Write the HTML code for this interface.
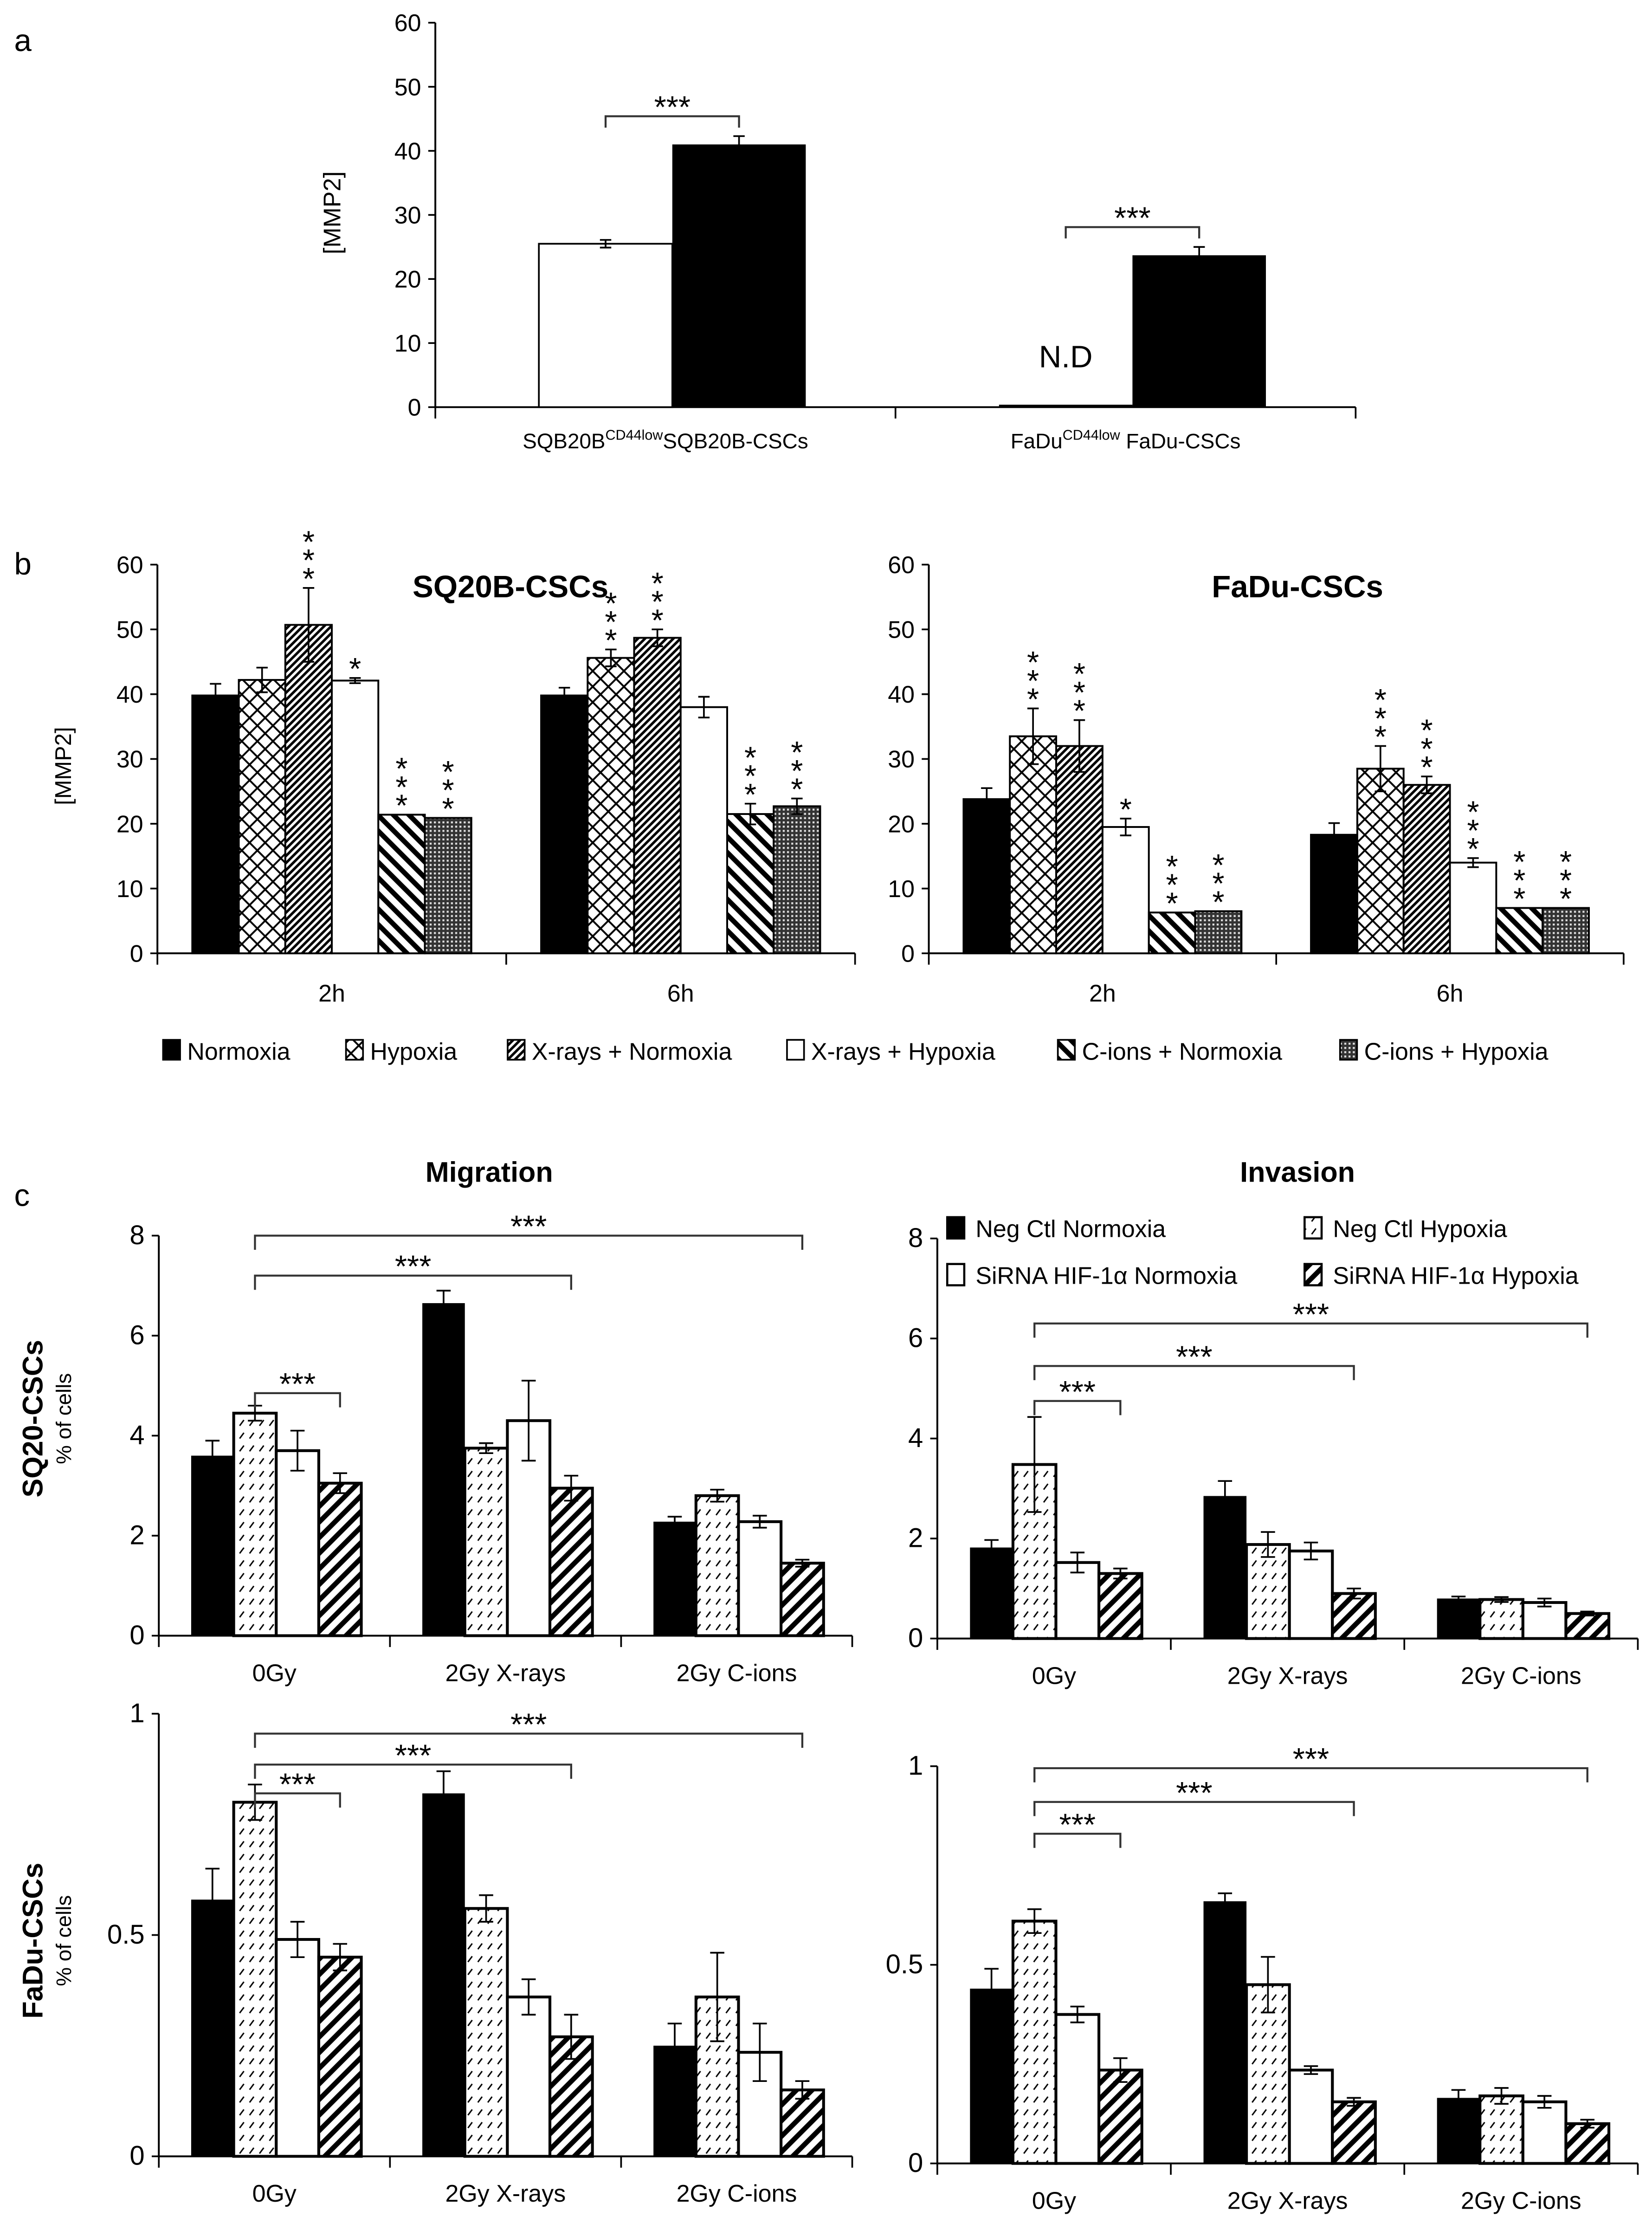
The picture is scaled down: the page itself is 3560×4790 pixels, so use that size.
<!DOCTYPE html>
<html><head><meta charset="utf-8">
<style>
html,body{margin:0;padding:0;background:#fff;}
svg{display:block;font-family:"Liberation Sans Narrow","Liberation Sans",sans-serif;}
</style></head>
<body>
<svg id="fig" width="3560" height="4790" viewBox="0 0 1165 1567" preserveAspectRatio="none" xmlns="http://www.w3.org/2000/svg">
<defs>
<pattern id="pHyp" patternUnits="userSpaceOnUse" width="11" height="11"><rect width="11" height="11" fill="#fff"/><path d="M0 0L11 11M11 0L0 11" stroke="#000" stroke-width="1.3"/></pattern>
<pattern id="pX" patternUnits="userSpaceOnUse" width="5" height="5"><rect width="5" height="5" fill="#fff"/><path d="M-1 6L6 -1M-2 2L2 -2M3 7L7 3" stroke="#000" stroke-width="1.8"/></pattern>
<pattern id="pC" patternUnits="userSpaceOnUse" width="11" height="11"><rect width="11" height="11" fill="#fff"/><path d="M-2 -2L13 13M-2 9L2 13M9 -2L13 2" stroke="#000" stroke-width="3.5"/></pattern>
<pattern id="pCH" patternUnits="userSpaceOnUse" width="3" height="3"><rect width="3" height="3" fill="#333"/><rect width="1.4" height="1.4" fill="#ddd"/></pattern>
<pattern id="pDash" patternUnits="userSpaceOnUse" width="7" height="9"><rect width="7" height="9" fill="#fff"/><path d="M1 6L4 2" stroke="#000" stroke-width="1"/></pattern>
<pattern id="pH" patternUnits="userSpaceOnUse" width="11" height="11"><rect width="11" height="11" fill="#fff"/><path d="M-2 13L13 -2M-2 2L2 -2M9 13L13 9" stroke="#000" stroke-width="3.5"/></pattern>
</defs>
<g id="root"></g>
</svg>
<script>
// ---------- data ----------
const aCats = ["SQB20B", "FaDu"];
const aLow = [25.5, 0];
const aLowErr = [0.6, 0];
const aCSC = [41.0, 23.7];
const aCSCErr = [1.3, 1.3];
const aTicks = [0, 10, 20, 30, 40, 50, 60];

const bCats = ["2h", "6h"];
const bTicks = [0, 10, 20, 30, 40, 50, 60];
const bSeriesNames = ["Normoxia", "Hypoxia", "X-rays +  Normoxia", "X-rays + Hypoxia", "C-ions + Normoxia", "C-ions + Hypoxia"];
const bSQ = [[39.8, 39.8], [42.2, 45.6], [50.7, 48.7], [42.1, 38.0], [21.4, 21.5], [20.9, 22.7]];
const bSQErr = [[1.8, 1.2], [1.9, 1.3], [5.7, 1.3], [0.4, 1.6], [0, 1.6], [0, 1.2]];
const bSQStars = [[0, 0], [0, 3], [3, 3], [1, 0], [3, 3], [3, 3]];
const bFa = [[23.8, 18.3], [33.5, 28.5], [32.0, 26.0], [19.5, 14.0], [6.3, 7.0], [6.5, 7.0]];
const bFaErr = [[1.7, 1.8], [4.3, 3.5], [4.0, 1.3], [1.3, 0.7], [0, 0], [0, 0]];
const bFaStars = [[0, 0], [3, 3], [3, 3], [1, 3], [3, 3], [3, 3]];

const cCats = ["0Gy", "2Gy X-rays", "2Gy C-ions"];
const cNames = ["Neg Ctl Normoxia", "Neg Ctl Hypoxia", "SiRNA HIF-1α Normoxia", "SiRNA HIF-1α Hypoxia"];
const migSQ = [[3.6, 6.65, 2.28], [4.45, 3.75, 2.8], [3.7, 4.3, 2.28], [3.05, 2.95, 1.45]];
const migSQErr = [[0.3, 0.25, 0.1], [0.15, 0.1, 0.12], [0.4, 0.8, 0.12], [0.2, 0.25, 0.07]];
const migSQBr = [4.85, 7.2, 8.0];
const invSQ = [[1.82, 2.85, 0.8], [3.48, 1.88, 0.78], [1.52, 1.75, 0.72], [1.3, 0.9, 0.5]];
const invSQErr = [[0.15, 0.3, 0.04], [0.95, 0.25, 0.05], [0.2, 0.17, 0.08], [0.1, 0.1, 0.04]];
const invSQBr = [4.75, 5.45, 6.3];
const migFa = [[0.58, 0.82, 0.25], [0.8, 0.56, 0.36], [0.49, 0.36, 0.235], [0.45, 0.27, 0.15]];
const migFaErr = [[0.07, 0.05, 0.05], [0.04, 0.03, 0.1], [0.04, 0.04, 0.065], [0.03, 0.05, 0.02]];
const migFaBr = [0.82, 0.885, 0.955];
const invFa = [[0.44, 0.66, 0.165], [0.61, 0.45, 0.17], [0.375, 0.235, 0.155], [0.235, 0.155, 0.1]];
const invFaErr = [[0.05, 0.02, 0.02], [0.03, 0.07, 0.02], [0.02, 0.01, 0.015], [0.03, 0.01, 0.01]];
const invFaBr = [0.83, 0.91, 0.995];
const cTicksSQ = [0, 2, 4, 6, 8];
const cTicksFa = [0, 0.5, 1];
const cTickLblFa = ["0", "0.5", "1"];

// ---------- helpers ----------
const NS = "http://www.w3.org/2000/svg";
const root = document.getElementById("root");
function mk(tag, attrs, parent) {
  const el = document.createElementNS(NS, tag);
  for (const k in attrs) el.setAttribute(k, attrs[k]);
  (parent || root).appendChild(el);
  return el;
}
function txt(s, x, y, size, anchor, extra) {
  const t = mk("text", Object.assign({x: x, y: y, "font-size": size, "text-anchor": anchor || "middle", fill: "#000"}, extra || {}));
  t.textContent = s;
  return t;
}

function axes(ax, axEnd, y0, ytop, max, ticks, labels, ncat, fs, name) {
  const sy = v => y0 - v / max * (y0 - ytop);
  const yl = mk("line", {x1: ax, y1: y0, x2: ax, y2: ytop, stroke: "#000", "stroke-width": 1.3});
  
  
  const xl = mk("line", {x1: ax, y1: y0, x2: axEnd, y2: y0, stroke: "#000", "stroke-width": 1.3});
  
  
  ticks.forEach((t, i) => {
    mk("line", {x1: ax - 5, y1: sy(t), x2: ax, y2: sy(t), stroke: "#000", "stroke-width": 1.2});
    const tl = txt(labels ? labels[i] : String(t), ax - 10, sy(t) + 6, fs, "end");
    
    
  });
  const cw = (axEnd - ax) / ncat;
  for (let i = 0; i <= ncat; i++) mk("line", {x1: ax + i * cw, y1: y0, x2: ax + i * cw, y2: y0 + 8, stroke: "#000", "stroke-width": 1.2});
  return sy;
}
function errbar(x, top, bot, cap) {
  const g = mk("g", {stroke: "#000", "stroke-width": 1.2});
  
  
  mk("line", {x1: x, y1: top, x2: x, y2: bot}, g);
  mk("line", {x1: x - cap, y1: top, x2: x + cap, y2: top}, g);
  mk("line", {x1: x - cap, y1: bot, x2: x + cap, y2: bot}, g);
}
function bracket(x1, x2, y, drop, stars, fs) {
  const p = mk("path", {d: `M${x1} ${y + drop}L${x1} ${y}L${x2} ${y}L${x2} ${y + drop}`, fill: "none", stroke: "#333", "stroke-width": 1.4});
  
  
  const t = txt(stars, (x1 + x2) / 2, y + 1, fs, "middle");
  
  
}

// ---------- panel a ----------
txt("a", 10, 36, 22, "start");
(function () {
  const ax = 307, axEnd = 956, y0 = 287, ytop = 16, max = 60;
  const sy = axes(ax, axEnd, y0, ytop, max, aTicks, null, 2, 17, 'panel-a');
  const cw = (axEnd - ax) / 2;
  aCats.forEach((c, i) => {
    const x0 = ax + i * cw + cw * 0.225, bw = cw * 0.29;
    if (aLow[i] > 0) {
      const r = mk("rect", {x: x0, y: sy(aLow[i]), width: bw, height: y0 - sy(aLow[i]), fill: "#fff", stroke: "#000", "stroke-width": 1.2});
      
      
      errbar(x0 + bw / 2, sy(aLow[i] + aLowErr[i]), sy(aLow[i] - aLowErr[i]), 4);
    } else {
      mk("line", {x1: x0, y1: y0 - 1, x2: x0 + bw, y2: y0 - 1, stroke: "#000", "stroke-width": 1.5});
      const nd = txt("N.D", x0 + bw / 2, y0 - 28, 22, "middle");
      
      
    }
    const r2 = mk("rect", {x: x0 + bw, y: sy(aCSC[i]), width: bw, height: y0 - sy(aCSC[i]), fill: "#000"});
    
    
    errbar(x0 + bw * 1.5, sy(aCSC[i] + aCSCErr[i]), sy(aCSC[i] - aCSCErr[i]), 4);
    const top = sy(aCSC[i] + aCSCErr[i]) - 14;
    bracket(x0 + bw / 2, x0 + bw * 1.5, top, 8, "***", 22);
  });
  const l1 = txt("", ax + cw / 2, 316, 15, "middle");
  l1.innerHTML = 'SQB20B<tspan dy="-6" font-size="10">CD44low</tspan><tspan dy="6">SQB20B-CSCs</tspan>';
  
  const l2 = txt("", ax + cw * 1.5, 316, 15, "middle");
  l2.innerHTML = 'FaDu<tspan dy="-6" font-size="10">CD44low</tspan><tspan dy="6"> FaDu-CSCs</tspan>';
  
  const yt = txt("[MMP2]", 0, 0, 17, "middle", {transform: "translate(240,150) rotate(-90)"});
  
})();

// ---------- panel b ----------
txt("b", 10, 405, 22, "start");
const bFills = ["#000", "url(#pHyp)", "url(#pX)", "#fff", "url(#pC)", "url(#pCH)"];
function panelB(ax, axEnd, vals, errs, stars, title, titleX, name) {
  const y0 = 672, ytop = 398, max = 60;
  const sy = axes(ax, axEnd, y0, ytop, max, bTicks, null, 2, 17, name);
  const cw = (axEnd - ax) / 2, bw = cw * 0.8 / 6;
  bCats.forEach((c, ci) => {
    vals.forEach((s, si) => {
      const v = s[ci], e = errs[si][ci];
      const x = ax + ci * cw + cw * 0.1 + si * bw;
      const r = mk("rect", {x: x, y: sy(v), width: bw, height: y0 - sy(v), fill: bFills[si], stroke: "#000", "stroke-width": 1.3});
      
      
      if (e > 0) errbar(x + bw / 2, sy(v + e), sy(v - e), 4);
      const n = stars[si][ci];
      for (let k = 0; k < n; k++) {
        const st = txt("*", x + bw / 2, sy(v + e) + 1 - k * 13, 22, "middle");
        
        
      }
    });
    const cl = txt(c, ax + cw * (ci + 0.5), 706, 17, "middle");
    
    
  });
  const t = txt(title, titleX, 421, 22, "middle", {"font-weight": "bold"});
  
  
}
panelB(111, 603, bSQ, bSQErr, bSQStars, "SQ20B-CSCs", 360, 'panel-b-sq20b');
panelB(655, 1145, bFa, bFaErr, bFaStars, "FaDu-CSCs", 915, 'panel-b-fadu');
txt("[MMP2]", 0, 0, 16, "middle", {transform: "translate(50,540) rotate(-90)"});
const bLegX = [115, 244, 358, 555, 746, 945];
bSeriesNames.forEach((n, i) => {
  const r = mk("rect", {x: bLegX[i], y: 733, width: 12, height: 14, fill: bFills[i], stroke: "#000", "stroke-width": 1.2});
  
  
  const t = txt(n, bLegX[i] + 17, 747, 17, "start");
  
  
});

// ---------- panel c ----------
txt("c", 10, 850, 22, "start");
const cFills = ["#000", "url(#pDash)", "#fff", "url(#pH)"];
function panelC(ax, axEnd, y0, ytop, max, ticks, tlbl, vals, errs, brs, name) {
  const sy = axes(ax, axEnd, y0, ytop, max, ticks, tlbl, 3, 19, name);
  const cw = (axEnd - ax) / 3, bw = cw * 0.184;
  const cx = (ci, si) => ax + ci * cw + cw * 0.14 + (si + 0.5) * bw;
  cCats.forEach((c, ci) => {
    vals.forEach((s, si) => {
      const v = s[ci], e = errs[si][ci];
      const x = cx(ci, si) - bw / 2;
      const r = mk("rect", {x: x, y: sy(v), width: bw, height: y0 - sy(v), fill: cFills[si], stroke: "#000", "stroke-width": si === 0 ? 0 : 2});
      
      
      errbar(cx(ci, si), sy(v + e), sy(v - e), 5);
    });
    const cl = txt(c, ax + cw * (ci + 0.5), y0 + 32, 17, "middle");
    
    
  });
  bracket(cx(0, 1), cx(0, 3), sy(brs[0]), 10, "***", 22);
  bracket(cx(0, 1), cx(1, 3), sy(brs[1]), 10, "***", 22);
  bracket(cx(0, 1), cx(2, 3), sy(brs[2]), 10, "***", 22);
}
panelC(112, 601, 1153, 871, 8, cTicksSQ, null, migSQ, migSQErr, migSQBr, 'migration-sq20');
panelC(661, 1155, 1155, 873, 8, cTicksSQ, null, invSQ, invSQErr, invSQBr, 'invasion-sq20');
panelC(112, 601, 1520, 1208, 1, cTicksFa, cTickLblFa, migFa, migFaErr, migFaBr, 'migration-fadu');
panelC(661, 1155, 1525, 1245, 1, cTicksFa, cTickLblFa, invFa, invFaErr, invFaBr, 'invasion-fadu');
txt("Migration", 345, 833, 20, "middle", {"font-weight": "bold"});
txt("Invasion", 915, 833, 20, "middle", {"font-weight": "bold"});
txt("SQ20-CSCs", 0, 0, 20, "middle", {"font-weight": "bold", transform: "translate(30,1000) rotate(-90)"});
txt("% of cells", 0, 0, 15, "middle", {transform: "translate(50,1000) rotate(-90)"});
txt("FaDu-CSCs", 0, 0, 20, "middle", {"font-weight": "bold", transform: "translate(30,1368) rotate(-90)"});
txt("% of cells", 0, 0, 15, "middle", {transform: "translate(50,1368) rotate(-90)"});
const cLegX = [668, 920, 668, 920], cLegY = [858, 858, 891, 891];
cNames.forEach((n, i) => {
  const r = mk("rect", {x: cLegX[i], y: cLegY[i], width: 12, height: 15, fill: cFills[i], stroke: "#000", "stroke-width": 1.5});
  
  
  const t = txt(n, cLegX[i] + 20, cLegY[i] + 14, 17, "start");
  
  
});
</script>
</body></html>
